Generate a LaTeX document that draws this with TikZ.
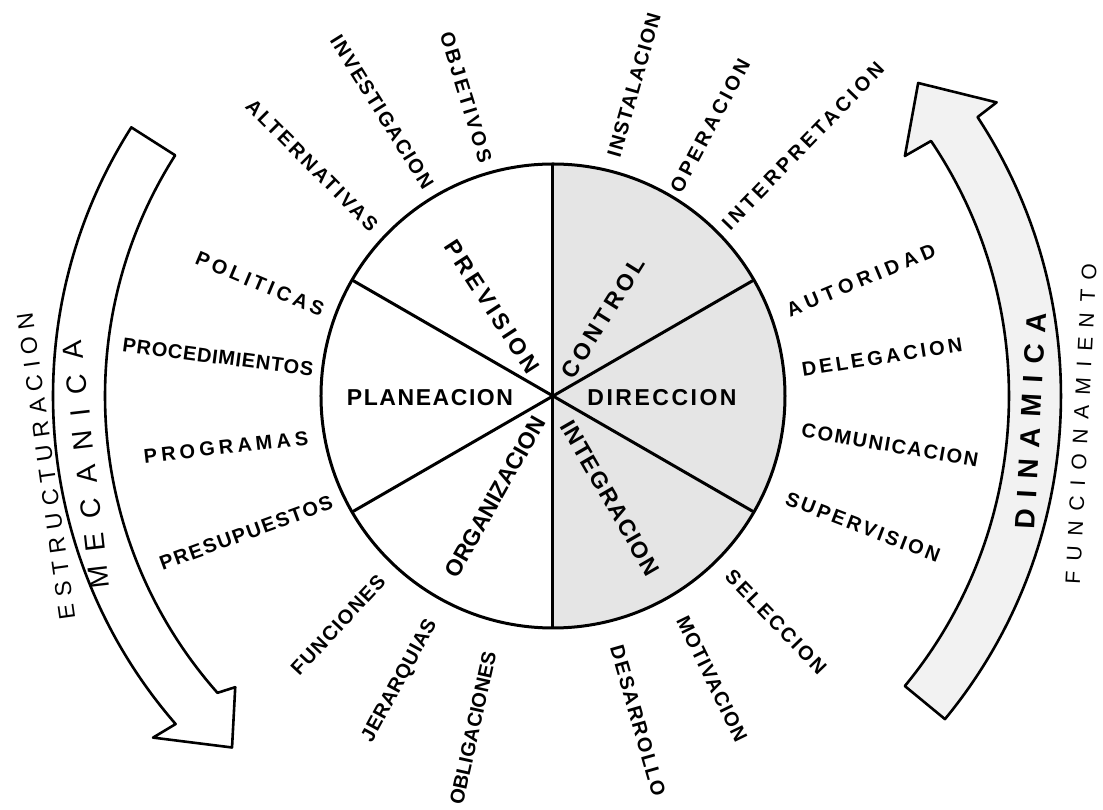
\documentclass[tikz,border=0pt]{standalone}
\usepackage{fontspec}
\setmainfont{Liberation Sans}
\usepackage{tikz}

%% espaciado entre letras (en % del cuerpo)
\newcommand\espa[2]{{\addfontfeatures{LetterSpace=#1}#2}}

\begin{document}
\begin{tikzpicture}[
    x=1pt, y=1pt,
    etiq/.style={inner sep=0pt, font=\fontsize{20}{24}\selectfont\bfseries},
    fase/.style={inner sep=0pt, font=\fontsize{23}{27}\selectfont\bfseries},
    grande/.style={inner sep=0pt, font=\fontsize{28}{32}\selectfont},
    lado/.style={inner sep=0pt, font=\fontsize{21}{25}\selectfont},
    linea/.style={line width=3pt},
    banda/.style={line width=2.6pt, line join=round},
]
\useasboundingbox (-553,-414) rectangle (550,396);
\coordinate (centro) at (0,0);

%% Circulo con los seis sectores
\fill[black!10] (centro) -- (90:232) arc[start angle=90, end angle=-90, radius=232] -- cycle;
\foreach \a in {90,30,-30,-90,210,150}
    \draw[linea] (centro) -- (\a:232);
\draw[linea] (centro) circle[radius=232];

%% Flechas
\draw[banda] (147.5:500) arc[start angle=147.5, end angle=221, radius=500]
    -- (220.5:526) -- (227.6:476) -- (222.5:431) -- (221.5:448)
    arc[start angle=221.5, end angle=147.5, radius=448] -- cycle;
\draw[banda, fill=black!5] (-39.5:508) arc[start angle=-39.5, end angle=33.3, radius=508]
    -- (33.5:532) -- (40.6:481) -- (34.3:426) -- (34:456)
    arc[start angle=34, end angle=-39.5, radius=456] -- cycle;

%% Fases
\node[fase]              at (-123,-2)  (plan) {\espa{6.8}{PLANEACION}};
\node[fase, rotate=-57]  at (-61,89)   (prev) {\espa{15.6}{PREVISION}};
\node[fase, rotate=58]   at (50,78)    (cont) {\espa{17.6}{CONTROL}};
\node[fase]              at (109,-2)   (dir)  {\espa{10.9}{DIRECCION}};
\node[fase, rotate=-60]  at (57,-102)  (int)  {\espa{6.2}{INTEGRACION}};
\node[fase, rotate=60.5] at (-58,-101) (org)  {ORGANIZACION};

%% Elementos de cada fase
\node[etiq, rotate=-45]   at (-241,231) (alt)  {\espa{12.5}{ALTERNATIVAS}};
\node[etiq, rotate=-58]   at (-171,284) (inv)  {\espa{7.8}{INVESTIGACION}};
\node[etiq, rotate=-73]   at (-87,299)  (obj)  {\espa{13.4}{OBJETIVOS}};
\node[etiq, rotate=74]    at (81,311)   (inst) {\espa{6.7}{INSTALACION}};
\node[etiq, rotate=62]    at (157,270)  (oper) {\espa{17}{OPERACION}};
\node[etiq, rotate=46]    at (250,250)  (inter){\espa{18}{INTERPRETACION}};
\node[etiq, rotate=22.7]  at (308,116)  (aut)  {\espa{25}{AUTORIDAD}};
\node[etiq, rotate=9]     at (329,39)   (del)  {\espa{16}{DELEGACION}};
\node[etiq, rotate=-10]   at (337,-49)  (com)  {\espa{8.6}{COMUNICACION}};
\node[etiq, rotate=-21]   at (310,-131) (sup)  {\espa{13.6}{SUPERVISION}};
\node[etiq, rotate=-46]   at (223,-226) (sel)  {\espa{12}{SELECCION}};
\node[etiq, rotate=-64]   at (159,-283) (mot)  {\espa{5.7}{MOTIVACION}};
\node[etiq, rotate=-74]   at (85,-325)  (des)  {\espa{8.9}{DESARROLLO}};
\node[etiq, rotate=77.5]  at (-80,-332) (obl)  {\espa{0.7}{OBLIGACIONES}};
\node[etiq, rotate=61.5]  at (-153,-285)(jer)  {\espa{2.8}{JERARQUIAS}};
\node[etiq, rotate=47]    at (-215,-229)(fun)  {\espa{6.4}{FUNCIONES}};
\node[etiq, rotate=-22.8] at (-293,112) (pol)  {\espa{19}{POLITICAS}};
\node[etiq, rotate=-7.5]  at (-335,39)  (proc) {\espa{3.9}{PROCEDIMIENTOS}};
\node[etiq, rotate=6.5]   at (-327,-51) (prog) {\espa{20.6}{PROGRAMAS}};
\node[etiq, rotate=20]    at (-307,-137)(pres) {\espa{8.4}{PRESUPUESTOS}};

%% Textos de las flechas
\node[grande, font=\fontsize{28}{32}\selectfont\bfseries, rotate=87] at (478,-25) (din)
    {\espa{39}{DINAMICA}};
\node[lado, rotate=87]   at (528,-28) (func) {\espa{47.6}{FUNCIONAMIENTO}};
\node[grande, rotate=96.5] at (-467,-69) (mec) {\espa{52}{MECANICA}};
\node[lado, font=\fontsize{23}{27}\selectfont, rotate=98] at (-507,-70) (est)
    {\espa{31.7}{ESTRUCTURACION}};
\end{tikzpicture}
\end{document}
